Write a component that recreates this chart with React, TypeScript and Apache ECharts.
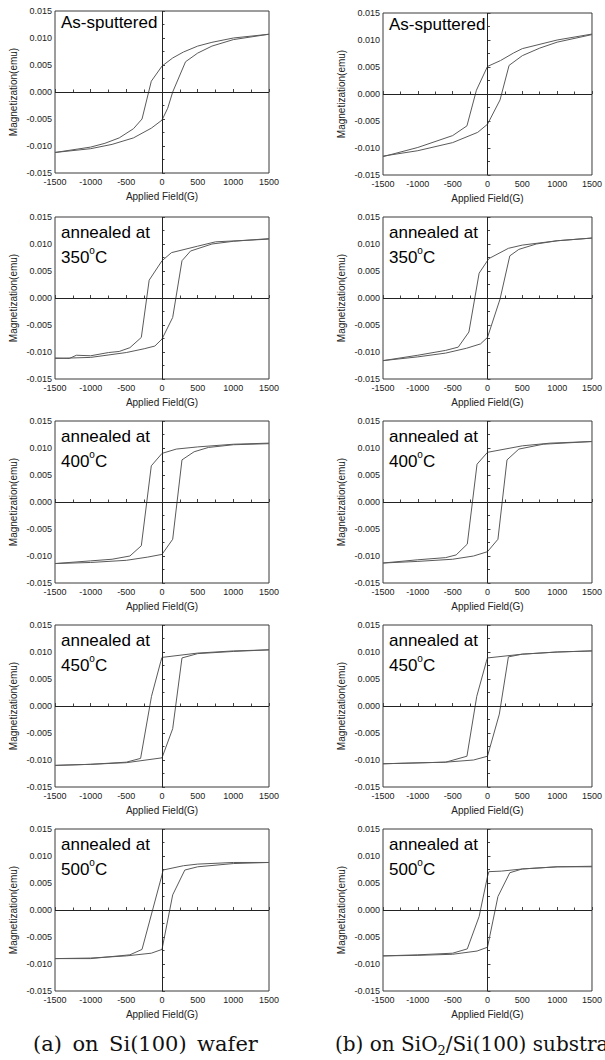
import React, { useEffect, useRef } from "react";
import * as echarts from "echarts";

// Hysteresis loops: [Applied field (G), Magnetization (emu)]
// (a) on Si(100) wafer
const siAsDown = [[1500, 0.0107], [1000, 0.0100], [700, 0.0092], [500, 0.0085], [300, 0.0074], [150, 0.0063], [0, 0.0048], [-150, 0.0020], [-280, -0.0050], [-400, -0.0068], [-600, -0.0085], [-800, -0.0095], [-1000, -0.0102], [-1500, -0.0112]];
const siAsUp = [[-1500, -0.0112], [-1000, -0.0105], [-700, -0.0097], [-400, -0.0085], [-150, -0.0067], [0, -0.0052], [80, -0.0030], [150, 0.0000], [330, 0.0056], [500, 0.0072], [700, 0.0085], [1000, 0.0097], [1500, 0.0107]];
const si350Down = [[1500, 0.0109], [750, 0.0104], [500, 0.0096], [133, 0.0084], [0, 0.0069], [-180, 0.0033], [-290, -0.0073], [-450, -0.0092], [-600, -0.0099], [-750, -0.0101], [-1000, -0.0107], [-1200, -0.0106], [-1300, -0.0112], [-1500, -0.0111]];
const si350Up = [[-1500, -0.0112], [-1000, -0.0110], [-500, -0.0101], [-250, -0.0094], [-100, -0.0089], [0, -0.0076], [150, -0.0036], [280, 0.0069], [400, 0.0087], [700, 0.0100], [1000, 0.0105], [1500, 0.0110]];
const si400Down = [[1500, 0.0109], [1000, 0.0107], [500, 0.0102], [200, 0.0098], [0, 0.0090], [-150, 0.0067], [-290, -0.0081], [-450, -0.0100], [-700, -0.0106], [-1000, -0.0109], [-1500, -0.0114]];
const si400Up = [[-1500, -0.0114], [-1000, -0.0112], [-500, -0.0108], [-200, -0.0102], [0, -0.0097], [150, -0.0069], [280, 0.0078], [450, 0.0093], [650, 0.0101], [1000, 0.0106], [1500, 0.0108]];
const si450Down = [[1500, 0.0104], [1000, 0.0102], [500, 0.0098], [0, 0.0090], [-16, 0.0083], [-147, 0.0018], [-300, -0.0097], [-500, -0.0104], [-1000, -0.0108], [-1500, -0.0110]];
const si450Up = [[-1500, -0.0110], [-1000, -0.0108], [-500, -0.0105], [0, -0.0096], [150, -0.0042], [280, 0.0089], [500, 0.0097], [1000, 0.0101], [1500, 0.0104]];
const si500Down = [[1500, 0.0088], [1000, 0.0088], [500, 0.0085], [300, 0.0082], [15, 0.0074], [0, 0.0065], [-280, -0.0073], [-450, -0.0083], [-1000, -0.0090], [-1500, -0.0090]];
const si500Up = [[-1500, -0.0090], [-1000, -0.0089], [-500, -0.0085], [-150, -0.0080], [0, -0.0073], [150, 0.0028], [320, 0.0074], [500, 0.0080], [1000, 0.0086], [1500, 0.0088]];

// (b) on SiO2/Si(100) substrate
const oxAsDown = [[1500, 0.0111], [1000, 0.0100], [500, 0.0084], [375, 0.0076], [188, 0.0062], [0, 0.0051], [-159, 0.0007], [-295, -0.0059], [-500, -0.0077], [-1000, -0.0099], [-1500, -0.0116]];
const oxAsUp = [[-1500, -0.0115], [-1000, -0.0105], [-500, -0.0090], [-140, -0.0071], [0, -0.0056], [180, -0.0011], [310, 0.0053], [500, 0.0071], [750, 0.0085], [1000, 0.0096], [1500, 0.0110]];
const ox350Down = [[1500, 0.0111], [1000, 0.0106], [500, 0.0098], [300, 0.0092], [20, 0.0073], [-120, 0.0046], [-267, -0.0063], [-420, -0.0091], [-600, -0.0097], [-1000, -0.0106], [-1500, -0.0116]];
const ox350Up = [[-1500, -0.0116], [-1000, -0.0109], [-600, -0.0102], [-300, -0.0093], [-100, -0.0085], [0, -0.0073], [180, -0.0002], [320, 0.0078], [450, 0.0090], [700, 0.0100], [1000, 0.0106], [1500, 0.0111]];
const ox400Down = [[1500, 0.0112], [900, 0.0109], [500, 0.0104], [0, 0.0092], [-150, 0.0070], [-290, -0.0078], [-450, -0.0098], [-600, -0.0103], [-1000, -0.0107], [-1500, -0.0113]];
const ox400Up = [[-1500, -0.0113], [-1000, -0.0110], [-500, -0.0106], [-200, -0.0100], [0, -0.0092], [150, -0.0069], [280, 0.0078], [450, 0.0098], [800, 0.0107], [1500, 0.0112]];
const ox450Down = [[1500, 0.0102], [1000, 0.0100], [500, 0.0096], [0, 0.0089], [-15, 0.0083], [-154, 0.0018], [-295, -0.0093], [-600, -0.0104], [-1500, -0.0107]];
const ox450Up = [[-1500, -0.0107], [-600, -0.0104], [-200, -0.0100], [0, -0.0093], [170, -0.0015], [300, 0.0091], [500, 0.0096], [1000, 0.0100], [1500, 0.0102]];
const ox500Down = [[1500, 0.0080], [1000, 0.0080], [500, 0.0076], [200, 0.0072], [20, 0.0071], [0, 0.0062], [-120, -0.0012], [-290, -0.0072], [-500, -0.0080], [-1000, -0.0083], [-1500, -0.0085]];
const ox500Up = [[-1500, -0.0085], [-1000, -0.0084], [-500, -0.0082], [-150, -0.0076], [0, -0.0069], [150, 0.0025], [320, 0.0069], [500, 0.0076], [1000, 0.0080], [1500, 0.0081]];

const panelLabels = ["As-sputtered", "350", "400", "450", "500"];
const columnData = [
  [[siAsDown, siAsUp], [si350Down, si350Up], [si400Down, si400Up], [si450Down, si450Up], [si500Down, si500Up]],
  [[oxAsDown, oxAsUp], [ox350Down, ox350Up], [ox400Down, ox400Up], [ox450Down, ox450Up], [ox500Down, ox500Up]],
];
const xName = "Applied Field(G)";
const yName = "Magnetization(emu)";

const SANS = "'Liberation Sans', Arial, Helvetica, sans-serif";
const SERIF = "'DejaVu Serif', 'Liberation Serif', serif";

const colLeft = [55, 383];
const rowTop = [[11, 217, 421, 625, 829], [13, 217, 421, 625, 829]];
const PW = 214;
const PH = 162;

function buildOption() {
  const grid: any[] = [];
  const xAxis: any[] = [];
  const yAxis: any[] = [];
  const series: any[] = [];
  const graphic: any[] = [];
  columnData.forEach((col, c) => {
    col.forEach((loop, r) => {
      const i = grid.length;
      const left = colLeft[c];
      const top = rowTop[c][r];
      grid.push({
        left, top, width: PW, height: PH,
        show: true, borderColor: "#3a3a3a", borderWidth: 1, backgroundColor: "transparent",
      });
      xAxis.push({
        gridIndex: i, type: "value", min: -1500, max: 1500, interval: 500,
        name: xName, nameLocation: "middle", nameGap: 18,
        nameTextStyle: { fontSize: 10, color: "#222", fontFamily: SANS },
        axisLine: { show: false },
        axisTick: { show: true, inside: true, length: 3, lineStyle: { color: "#444" } },
        minorTick: { show: true, splitNumber: 2, length: 2.5, lineStyle: { color: "#444" } },
        axisLabel: {
          fontSize: 9, margin: 4, color: "#222", fontFamily: SANS,
          formatter: (v: number) => String(Math.round(v)),
        },
        splitLine: { show: false },
      });
      yAxis.push({
        gridIndex: i, type: "value", min: -0.015, max: 0.015, interval: 0.005,
        name: yName, nameLocation: "middle", nameGap: 37,
        nameTextStyle: { fontSize: 10, color: "#222", fontFamily: SANS },
        axisLine: { show: false },
        axisTick: { show: true, inside: true, length: 3, lineStyle: { color: "#444" } },
        minorTick: { show: true, splitNumber: 2, length: 2.5, lineStyle: { color: "#444" } },
        axisLabel: {
          fontSize: 9, margin: 3, color: "#222", fontFamily: SANS,
          formatter: (v: number) => (Math.abs(v) < 1e-9 ? "0.000" : v.toFixed(3)),
        },
        splitLine: { show: false },
      });
      loop.forEach((branch, b) => {
        series.push({
          type: "line", xAxisIndex: i, yAxisIndex: i, data: branch,
          symbol: "none", showSymbol: false, silent: true,
          lineStyle: { color: "#5a5a5a", width: 1 },
          z: 3,
          markLine: b === 0 ? {
            silent: true, symbol: "none", label: { show: false },
            lineStyle: { color: "#222", width: 1, type: "solid" },
            data: [{ xAxis: 0 }, { yAxis: 0 }],
          } : undefined,
        });
      });
      const lab = panelLabels[r];
      if (r === 0) {
        graphic.push({
          type: "text", x: left + 6, y: top + 3, z: 10,
          style: { text: lab, fontSize: 17, fontFamily: SANS, fill: "#000", verticalAlign: "top" },
        });
      } else {
        graphic.push({
          type: "text", x: left + 6, y: top + 3, z: 10,
          style: {
            text: "{t|annealed at}\n{t|" + lab + "}{s|o}{t|C}",
            fill: "#000", verticalAlign: "top",
            rich: {
              t: { fontSize: 17, fontFamily: SANS, lineHeight: 25, fill: "#000" },
              s: { fontSize: 10, fontFamily: SANS, lineHeight: 14, verticalAlign: "top", fill: "#000" },
            },
          },
        });
      }
    });
  });
  const capRichA = {
    t: { fontSize: 21, fontFamily: SERIF, fill: "#111", lineHeight: 26 },
    w: { fontSize: 33, fontFamily: SERIF, fill: "#111", lineHeight: 26 },
  };
  const capRichB = {
    t: { fontSize: 20, fontFamily: SERIF, fill: "#111", lineHeight: 26 },
    w: { fontSize: 20, fontFamily: SERIF, fill: "#111", lineHeight: 26 },
    d: { fontSize: 13, fontFamily: SERIF, fill: "#111", lineHeight: 26, verticalAlign: "bottom", padding: [9, 0, 0, 0] },
  };
  graphic.push({
    type: "text", x: 33, y: 1044, z: 10,
    style: {
      text: "{t|(a)}{w| }{t|on}{w| }{t|Si(100)}{w| }{t|wafer}",
      verticalAlign: "middle", fill: "#111", rich: capRichA,
    },
  });
  graphic.push({
    type: "text", x: 335, y: 1044, z: 10,
    style: {
      text: "{t|(b)}{w| }{t|on}{w| }{t|SiO}{d|2}{t|/Si(100)}{w| }{t|substrate}",
      verticalAlign: "middle", fill: "#111", rich: capRichB,
    },
  });
  return {
    animation: false,
    backgroundColor: "#ffffff",
    grid, xAxis, yAxis, series, graphic,
  };
}

export default function App() {
  const ref = useRef<HTMLDivElement>(null);
  useEffect(() => {
    if (!ref.current) return;
    const chart = echarts.init(ref.current, undefined, { renderer: "svg" });
    chart.setOption(buildOption() as any);
    return () => chart.dispose();
  }, []);
  return (
    <div
      ref={ref}
      style={{ position: "absolute", left: 0, top: 0, width: 605, height: 1060, background: "#fff" }}
    />
  );
}
